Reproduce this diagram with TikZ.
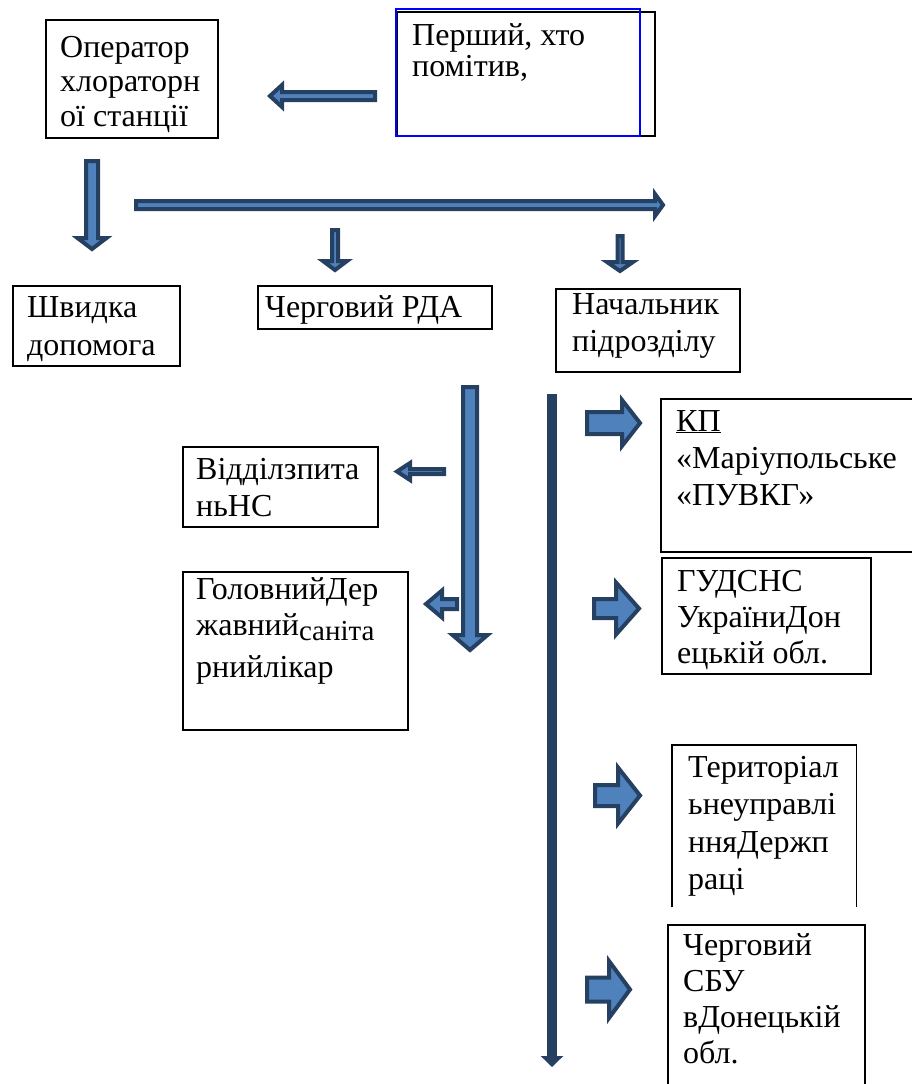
\documentclass[tikz,border=0pt]{standalone}
\usepackage{fontspec}
\setmainfont{Liberation Serif}
\newfontfamily\tnr{Liberation Serif}
\usetikzlibrary{arrows.meta}
\definecolor{dkblue}{RGB}{38,64,98}
\definecolor{ltblue}{RGB}{79,129,189}
\newcommand\mlines[1]{\begin{tabular}[t]{@{}l@{}}#1\end{tabular}}
% horizontal block arrow: tail x, head-start x, tip x, centre y, shaft half, head half
\newcommand\hbarrow[6]{\draw[barrow] ({#1},{#4-#5}) -- ({#2},{#4-#5}) -- ({#2},{#4-#6}) -- ({#3},{#4}) -- ({#2},{#4+#6}) -- ({#2},{#4+#5}) -- ({#1},{#4+#5}) -- cycle;}
% vertical block arrow: centre x, top y, head-start y, tip y, shaft half, head half
\newcommand\vbarrow[6]{\draw[barrow] ({#1-#5},{#2}) -- ({#1-#5},{#3}) -- ({#1-#6},{#3}) -- ({#1},{#4}) -- ({#1+#6},{#3}) -- ({#1+#5},{#3}) -- ({#1+#5},{#2}) -- cycle;}
\newcommand\bx[5]{\node[box, minimum width={#4pt-#2pt}, minimum height={#5pt-#3pt}] (#1) at (#2,#3) {};}
\tikzset{
  box/.style={draw=black, line width=1.8pt, inner sep=0pt, anchor=north west},
  openbox/.style={inner sep=0pt, anchor=north west},
  txt/.style={anchor=base west, inner sep=0pt, font=\tnr\fontsize{32}{37}\selectfont},
  barrow/.style={fill=ltblue, draw=dkblue, line width=4pt, line join=miter},
}
\begin{document}
\begin{tikzpicture}[x=1pt, y=-1pt]
\useasboundingbox (0,0) rectangle (912,1084);
\clip (0,0) rectangle (912,1084);
% boxes
\bx{op}{45}{19}{217}{137}
\bx{first}{396}{11}{654}{135}
\draw[blue, line width=1.2pt] (396,9) rectangle (640,136);
\bx{shv}{12}{285}{179}{365}
\bx{rda}{257}{285}{491}{328}
\bx{nach}{555}{288}{739}{371}
\bx{vid}{182}{446}{377}{526}
\bx{hol}{182}{571}{407}{729}
\bx{kp}{660}{398}{940}{551}
\bx{guds}{661}{557}{870}{673}
\node[openbox, minimum width=184pt, minimum height=162pt] (ter) at (672,745) {};
\draw[line width=1.8pt] (ter.south west) -- (ter.north west) -- (ter.north east) -- (ter.south east);
\bx{sbu}{667}{924}{864}{1110}
% texts
\node[txt, font=\tnr\fontsize{32}{34.5}\selectfont] (opT) at (60,57.3) {\mlines{Оператор\\хлораторн\\ої станції}};
\node[txt, font=\tnr\fontsize{32}{31.5}\selectfont] (firstT) at (412,45) {\mlines{Перший, хто\\помітив,}};
\node[txt, font=\tnr\fontsize{32}{38}\selectfont] (shvT) at (27,317) {\mlines{Швидка\\допомога}};
\node[txt] (rdaT) at (265,317) {Черговий РДА};
\node[txt] (nachT) at (572,314) {\mlines{Начальник\\підрозділу}};
\node[txt] (vidT) at (196,479) {\mlines{Відділзпита\\ньНС}};
\node[txt, font=\tnr\fontsize{32}{36}\selectfont] (holT) at (196,599) {\mlines{ГоловнийДер\\жавний\raisebox{-5.5pt}{\fontsize{29}{30}\selectfont саніта}\\[6pt]рнийлікар}};
\node[txt] (kpT) at (676,431) {\mlines{\underline{КП}\\«Маріупольське\\«ПУВКГ»}};
\node[txt, font=\tnr\fontsize{32}{36}\selectfont] (gudsT) at (677,591) {\mlines{ГУДСНС\\УкраїниДон\\ецькій обл.}};
\node[txt, font=\tnr\fontsize{32}{37.5}\selectfont] (terT) at (688,777) {\mlines{Територіал\\ьнеуправлі\\нняДержп\\раці}};
\node[txt, font=\tnr\fontsize{32}{36}\selectfont] (sbuT) at (683,955) {\mlines{Черговий\\СБУ\\вДонецькій\\обл.}};
% block arrows
\hbarrow{375}{282}{270}{96}{4}{11}
\vbarrow{92}{161}{238}{249}{6}{14.5}
\hbarrow{136}{655}{663}{205}{4}{11}
\vbarrow{335}{230}{261}{270}{3}{12}
\vbarrow{620}{236}{262}{271}{2.5}{13}
\hbarrow{444}{410}{397}{471.5}{2.5}{8.5}
\hbarrow{457}{442}{426}{604}{5}{13.5}
\vbarrow{470}{387}{635}{650}{7}{17.5}
\hbarrow{587}{622}{640}{423}{11}{23}
\hbarrow{594}{616}{639}{608.5}{9.5}{26}
\hbarrow{595}{618}{640}{795.5}{10.5}{28}
\hbarrow{587}{609}{630}{989.5}{12}{28.5}
% long vertical line
\coordinate (lineTop) at (552,394);
\coordinate (lineEnd) at (552,1067);
\draw[dkblue, line width=10pt, -{Triangle[width=22pt,length=11pt]}] (lineTop) -- (lineEnd);
\end{tikzpicture}
\end{document}
